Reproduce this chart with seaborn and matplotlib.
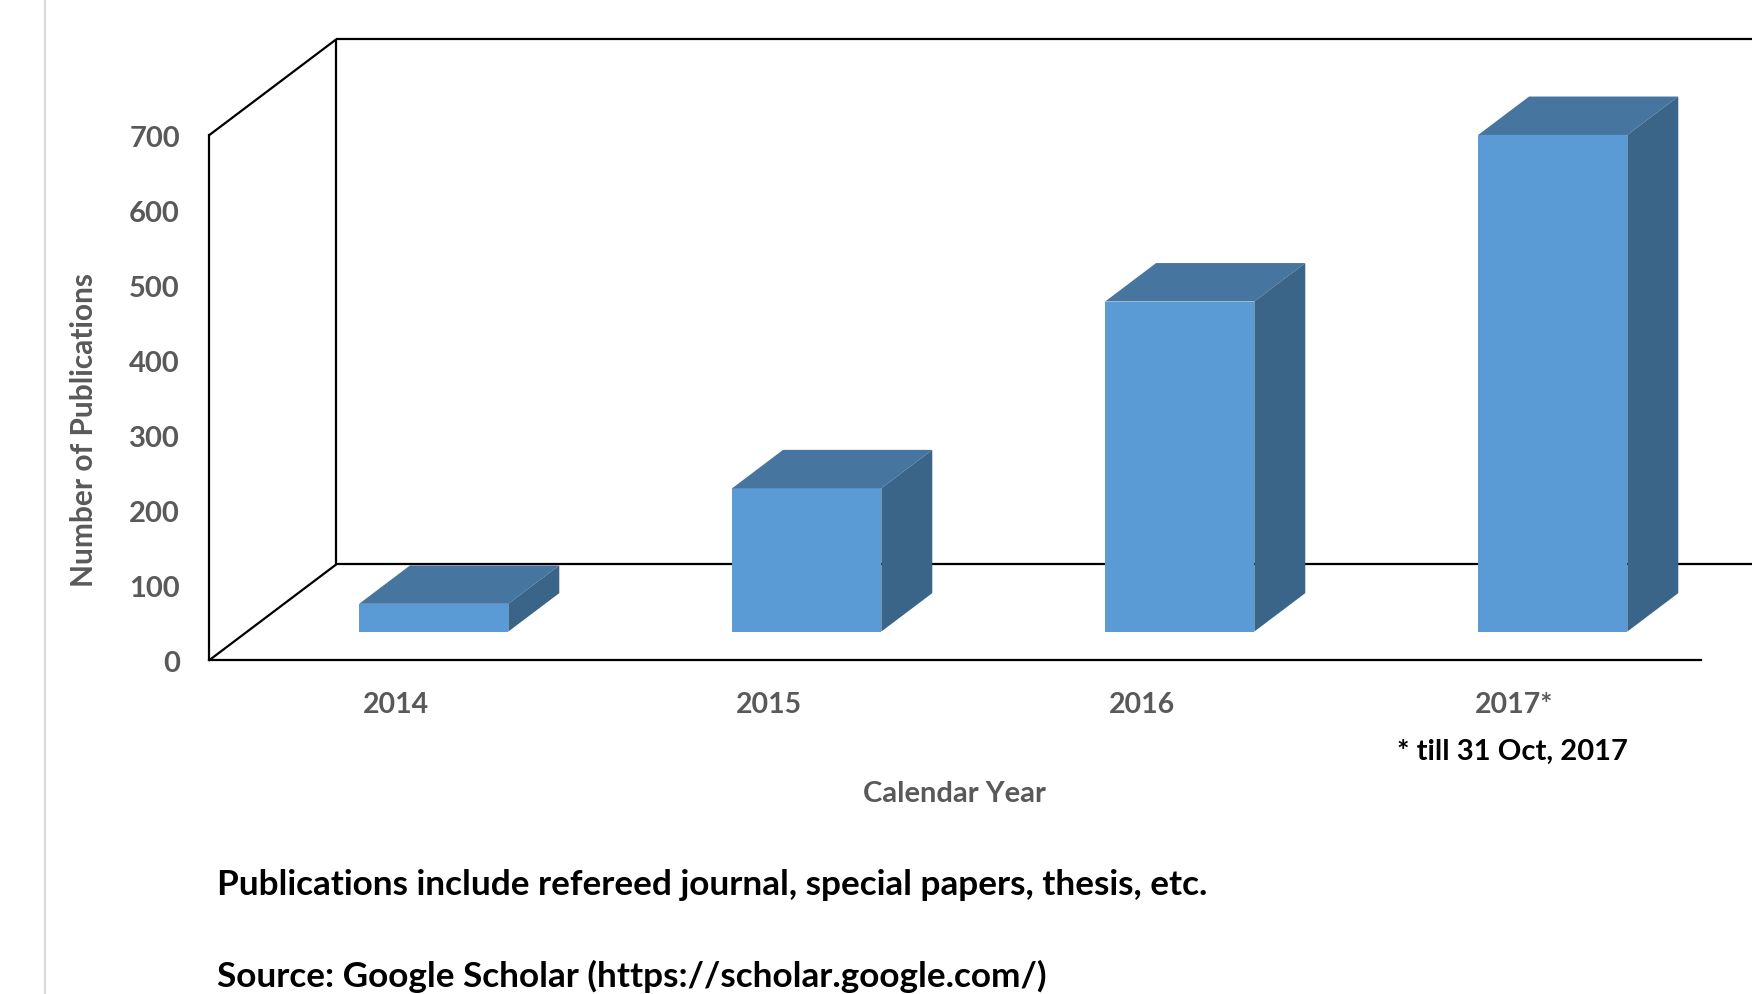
import matplotlib
matplotlib.use("Agg")
import matplotlib.pyplot as plt
import seaborn as sns
import pandas as pd
from matplotlib.patches import Polygon
from matplotlib.lines import Line2D

# ---- data ----
years = ["2014", "2015", "2016", "2017*"]
publications = [37, 191, 440, 662]
y_ticks = [0, 100, 200, 300, 400, 500, 600, 700]

sns.set_theme(style="white")
plt.rcParams['font.family'] = ['Lato', 'DejaVu Sans']

W, H = 1752, 995
fig = plt.figure(figsize=(W / 100, H / 100), dpi=100)
fig.patch.set_facecolor("white")

# front wall plane of the pseudo-3D box
L, R, B, T = 209, 1701, 995 - 661.4, 995 - 136.3
ax = fig.add_axes([L / W, B / H, (R - L) / W, (T - B) / H])
ax.set_facecolor("none")

df = pd.DataFrame({"year": years, "pubs": publications})
sns.barplot(data=df, x="year", y="pubs", color="#5B9BD5", width=0.4,
            saturation=1, ax=ax, zorder=3, edgecolor="none")
ax.set_xlim(-0.5, 3.5)
ax.set_ylim(0, 700)

# depth vector (full depth) in data units
DX = 127.4 / ((R - L) / 4)
DY = 96.1 / ((T - B) / 700)
f0, bd = 0.3, 0.4  # bar front depth, bar depth

TOP_C = "#4675A0"
SIDE_C = "#3A6488"
for p in ax.patches:
    x0 = p.get_x() + f0 * DX
    y0 = f0 * DY
    w = p.get_width()
    h = p.get_height()
    p.set_x(x0)
    p.set_y(y0)
    p.set_clip_on(False)
    top = Polygon([(x0, y0 + h), (x0 + w, y0 + h),
                   (x0 + w + bd * DX, y0 + h + bd * DY), (x0 + bd * DX, y0 + h + bd * DY)],
                  closed=True, facecolor=TOP_C, edgecolor="none", zorder=3, clip_on=False)
    side = Polygon([(x0 + w, y0), (x0 + w + bd * DX, y0 + bd * DY),
                    (x0 + w + bd * DX, y0 + h + bd * DY), (x0 + w, y0 + h)],
                   closed=True, facecolor=SIDE_C, edgecolor="none", zorder=3, clip_on=False)
    ax.add_patch(top)
    ax.add_patch(side)

# box frame lines
lw = 1.6
bx = -0.5 + DX
frame = [
    ([-0.5, bx], [0, DY]),
    ([-0.5, bx], [700, 700 + DY]),
    ([bx, bx], [DY, 700 + DY]),
    ([bx, 3.5 + DX], [DY, DY]),
    ([bx, 3.5 + DX], [700 + DY, 700 + DY]),
]
for xs, ys in frame:
    ax.plot(xs, ys, color="black", lw=lw, zorder=1, clip_on=False, solid_capstyle="butt")

for s in ["top", "right"]:
    ax.spines[s].set_visible(False)
for s in ["left", "bottom"]:
    ax.spines[s].set_color("black")
    ax.spines[s].set_linewidth(lw)
    ax.spines[s].set_zorder(5)

ax.set_yticks(y_ticks)
ax.set_yticklabels([str(v) for v in y_ticks])
ax.tick_params(axis="y", length=0, pad=21, labelsize=21, labelcolor="#595959")
ax.tick_params(axis="x", length=0, pad=22, labelsize=20.5, labelcolor="#595959")
for lbl in ax.get_yticklabels() + ax.get_xticklabels():
    lbl.set_fontweight("bold")
ax.set_xlabel("")
ax.set_ylabel("")
ax.grid(False)

# texts
fig.text(84 / W, 1 - 430 / H, "Number of Publications", rotation=90, ha="center", va="center",
         color="#595959", fontsize=21.5, fontweight="bold")
fig.text(954 / W, 1 - 794 / H, "Calendar Year", ha="center", va="center",
         color="#595959", fontsize=21, fontweight="bold")
fig.text(1512 / W, 1 - 752 / H, "* till 31 Oct, 2017", ha="center", va="center",
         color="black", fontsize=21, fontweight="bold")
fig.text(217 / W, 1 - 885 / H, "Publications include refereed journal, special papers, thesis, etc.",
         ha="left", va="center", color="black", fontsize=25.3, fontweight="bold")
fig.text(217 / W, 1 - 976 / H, "Source: Google Scholar (https://scholar.google.com/)",
         ha="left", va="center", color="black", fontsize=25.3, fontweight="bold")

# left page-edge line
fig.add_artist(Line2D([45 / W, 45 / W], [0, 1], transform=fig.transFigure,
                      color="#D9D9D9", lw=1.5))

fig.savefig("out.png", dpi=100, facecolor="white")
